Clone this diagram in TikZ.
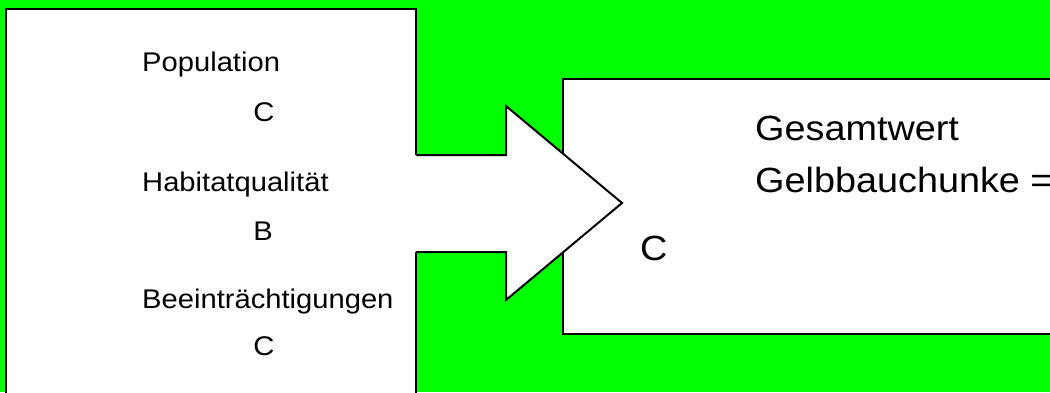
\documentclass[tikz,border=0pt]{standalone}
\usepackage{fontspec}
\setmainfont{Liberation Sans}
\definecolor{bggreen}{RGB}{0,255,0}
\tikzset{
  panel/.style={draw=black, line width=2pt, fill=white},
  lbl/.style={inner sep=0pt, transform shape, xscale=1.08, font=\fontsize{27}{30}\selectfont},
  biglbl/.style={inner sep=0pt, transform shape, xscale=1.08, font=\fontsize{35}{40}\selectfont},
}
\begin{document}
\begin{tikzpicture}[x=1pt,y=1pt]
\useasboundingbox (0,0) rectangle (1050,-392);
\clip (0,0) rectangle (1050,-392);
% background
\fill[bggreen] (0,0) rectangle (1050,-392);
% left panel with the three criteria
\draw[panel] (6,-9) rectangle (416,-402);
% right panel with the overall rating
\draw[panel] (563,-79) rectangle (1062,-334);
% block arrow from left panel to right panel
\coordinate (a1) at (416,-155);
\coordinate (a2) at (506,-155);
\coordinate (a3) at (506,-106);
\coordinate (tip) at (622,-203);
\coordinate (a5) at (506,-300);
\coordinate (a6) at (506,-252);
\coordinate (a7) at (416,-252);
\fill[white] (412,-155) -- (a2) -- (a3) -- (tip) -- (a5) -- (a6) -- (412,-252) -- cycle;
\draw[black, line width=2pt, line join=miter] (a1) -- (a2) -- (a3) -- (tip) -- (a5) -- (a6) -- (a7);
% criteria
\node[lbl, anchor=base west] (pop) at (142,-71) {Population};
\node[lbl, anchor=base] (popv) at (264,-121) {C};
\node[lbl, anchor=base west] (hab) at (142,-191) {Habitatqualität};
\node[lbl, anchor=base] (habv) at (263,-240) {B};
\node[lbl, anchor=base west] (bee) at (142,-308) {Beeinträchtigungen};
\node[lbl, anchor=base] (beev) at (264,-355) {C};
% overall value
\node[biglbl, anchor=base west] (ges1) at (755,-140) {Gesamtwert};
\node[biglbl, anchor=base west] (ges2) at (755,-192) {Gelbbauchunke =};
\node[biglbl, anchor=base west] (gesv) at (640,-260) {C};
\end{tikzpicture}
\end{document}
